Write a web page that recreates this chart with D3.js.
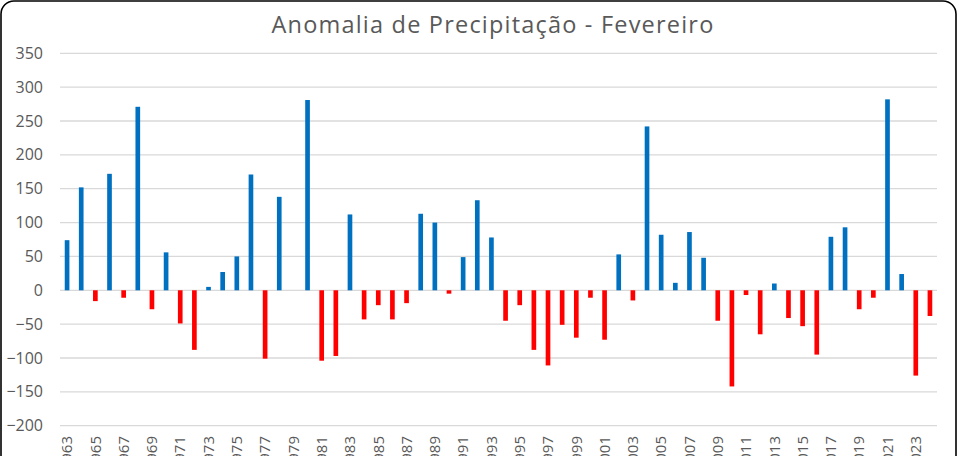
<!DOCTYPE html>
<html>
<head>
<meta charset="utf-8">
<script src="https://cdn.jsdelivr.net/npm/d3@7"></script>
<style>
  html, body { margin: 0; padding: 0; background: #fff; overflow: hidden; }
  svg { display: block; }
</style>
</head>
<body>
<svg id="chart" width="959" height="456"></svg>
<script>
const title = "Anomalia de Precipitação - Fevereiro";
const years = d3.range(1963, 2025);
const anomalies = [
  74, 152, -16, 172, -11, 271, -28, 56, -49, -88,
  5, 27, 50, 171, -101, 138, 0, 281, -104, -97,
  112, -43, -22, -43, -19, 113, 100, -5, 49, 133,
  78, -45, -22, -88, -111, -51, -70, -11, -73, 53,
  -15, 242, 82, 11, 86, 48, -45, -142, -7, -65,
  10, -41, -53, -95, 79, 93, -28, -11, 282, 24,
  -126, -38
];
const yTicks = [-200, -150, -100, -50, 0, 50, 100, 150, 200, 250, 300, 350];
const xLabelYears = years.filter((y, i) => i % 2 === 0);

const svg = d3.select("#chart");
const plot = { left: 60, right: 937, top: 53.3, bottom: 425.7 };

// frame
svg.append("rect")
  .attr("x", 1).attr("y", 1)
  .attr("width", 955).attr("height", 500)
  .attr("rx", 13).attr("ry", 13)
  .attr("fill", "#fff")
  .attr("stroke", "#000")
  .attr("stroke-width", 1.6);

const x = d3.scaleBand()
  .domain(years)
  .range([plot.left, plot.right])
  .paddingInner(0.67)
  .paddingOuter(0.335);

const y = d3.scaleLinear()
  .domain([-200, 350])
  .range([plot.bottom, plot.top]);

// gridlines
svg.append("g")
  .selectAll("line")
  .data(yTicks)
  .join("line")
  .attr("x1", plot.left).attr("x2", plot.right)
  .attr("y1", d => y(d)).attr("y2", d => y(d))
  .attr("stroke", "#d9d9d9")
  .attr("stroke-width", 1.3);

// y axis labels
const yAxis = d3.axisLeft(y).tickValues(yTicks).tickSize(0).tickPadding(0);
const gy = svg.append("g")
  .attr("transform", `translate(${43},0)`)
  .call(yAxis);
gy.select(".domain").remove();
gy.selectAll("text")
  .attr("fill", "#595959")
  .style("font-family", "'Open Sans', sans-serif")
  .style("font-size", "16px");

// bars
svg.append("g")
  .selectAll("rect")
  .data(years.map((yr, i) => ({ yr, v: anomalies[i] })))
  .join("rect")
  .attr("x", d => x(d.yr))
  .attr("width", x.bandwidth())
  .attr("y", d => y(Math.max(0, d.v)))
  .attr("height", d => Math.abs(y(d.v) - y(0)))
  .attr("fill", d => d.v >= 0 ? "#0070C0" : "#FF0000");

// x labels (rotated, cut off at the bottom edge as in the original)
const xAxis = d3.axisBottom(x).tickValues(xLabelYears).tickSize(0).tickPadding(0);
const gx = svg.append("g")
  .attr("transform", `translate(0,${436})`)
  .call(xAxis);
gx.select(".domain").remove();
gx.selectAll("text")
  .attr("fill", "#595959")
  .style("font-family", "'Open Sans', sans-serif")
  .style("font-size", "15px")
  .attr("transform", "rotate(-90)")
  .attr("text-anchor", "end")
  .attr("x", 0)
  .attr("y", 0)
  .attr("dy", "0.35em");

// title
svg.append("text")
  .attr("x", 493).attr("y", 33)
  .attr("text-anchor", "middle")
  .attr("fill", "#595959")
  .style("font-family", "'Open Sans', sans-serif")
  .style("font-size", "23.5px")
  .style("letter-spacing", "1.2px")
  .text(title);
</script>
</body>
</html>
